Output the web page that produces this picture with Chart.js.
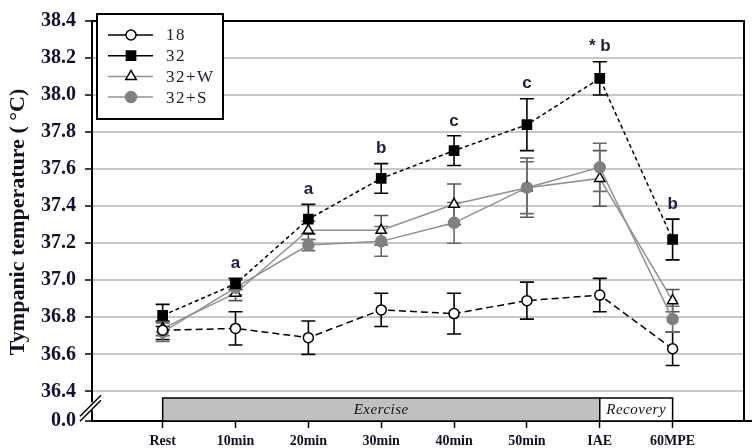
<!DOCTYPE html>
<html>
<head>
<meta charset="utf-8">
<script src="https://cdn.jsdelivr.net/npm/chart.js@4/dist/chart.umd.min.js"></script>
<style>
  html, body { margin: 0; padding: 0; background: #fff; }
  #wrap { width: 752px; height: 448px; }
</style>
</head>
<body>
<div id="wrap"><canvas id="grafico" width="752" height="448"></canvas></div>
<script>
// time points
const tempos = ['Rest', '10min', '20min', '30min', '40min', '50min', 'IAE', '60MPE'];

// mean tympanic temperature (°C)
const t18  = [36.73, 36.74, 36.69, 36.84, 36.82, 36.89, 36.92, 36.63];
const t32  = [36.81, 36.98, 37.33, 37.55, 37.70, 37.84, 38.09, 37.22];
const t32W = [36.74, 36.93, 37.27, 37.27, 37.41, 37.50, 37.55, 36.89];
const t32S = [36.72, 36.96, 37.19, 37.21, 37.31, 37.50, 37.61, 36.79];

// error bars (± SE)
const e18  = [0.05, 0.09, 0.09, 0.09, 0.11, 0.10, 0.09, 0.09];
const e32  = [0.06, 0.03, 0.08, 0.08, 0.08, 0.14, 0.09, 0.11];
const e32W = [0.04, 0.04, 0.05, 0.08, 0.11, 0.16, 0.15, 0.06];
const e32S = [0.05, 0.04, 0.03, 0.08, 0.11, 0.14, 0.13, 0.07];

// significance letters above the 32 series
const letras = ['', 'a', 'a', 'b', 'c', 'c', '* b', 'b'];

// y tick labels (bottom tick is the broken-axis 0.0)
const yTicks = [36.24, 36.4, 36.6, 36.8, 37.0, 37.2, 37.4, 37.6, 37.8, 38.0, 38.2, 38.4];

const fases = [
    { label: 'Exercise', from: 0, to: 6, fill: '#c0c0c0' },
    { label: 'Recovery', from: 6, to: 7, fill: '#ffffff' }
];

function pontos(arr) {
    return arr.map((v, i) => ({ x: i, y: v }));
}

const series = [
    { label: '18', data: t18, err: e18, color: 'black', dash: [7, 4], style: 'circle', radius: 5, bg: 'white', errColor: 'black' },
    { label: '32', data: t32, err: e32, color: 'black', dash: [4, 3], style: 'rect', radius: 6.5, bg: 'black', errColor: 'black' },
    { label: '32+W', data: t32W, err: e32W, color: '#909090', dash: [], style: 'triangle', radius: 6, bg: 'white', errColor: '#555555' },
    { label: '32+S', data: t32S, err: e32S, color: '#909090', dash: [], style: 'circle', radius: 5.5, bg: '#808080', errColor: '#6a6a6a' }
];

const errorBars = {
    id: 'errorBars',
    beforeDatasetsDraw(chart) {
        const ctx = chart.ctx;
        const x = chart.scales.x, y = chart.scales.y;
        ctx.save();
        ctx.lineWidth = 1.6;
        series.forEach(s => {
            ctx.strokeStyle = s.errColor;
            s.data.forEach((v, i) => {
                const px = x.getPixelForValue(i);
                const top = y.getPixelForValue(v + s.err[i]);
                const bot = y.getPixelForValue(v - s.err[i]);
                ctx.beginPath();
                ctx.moveTo(px, top); ctx.lineTo(px, bot);
                ctx.moveTo(px - 7, top); ctx.lineTo(px + 7, top);
                ctx.moveTo(px - 7, bot); ctx.lineTo(px + 7, bot);
                ctx.stroke();
            });
        });
        ctx.restore();
    }
};

function marcador(ctx, s, cx, cy) {
    ctx.save();
    ctx.fillStyle = s.bg;
    ctx.strokeStyle = s.style === 'circle' && s.bg !== 'white' ? s.bg : 'black';
    ctx.lineWidth = 1.5;
    ctx.beginPath();
    if (s.style === 'circle') {
        ctx.arc(cx, cy, s.radius, 0, Math.PI * 2);
    } else if (s.style === 'rect') {
        const h = s.radius * Math.SQRT1_2;
        ctx.rect(cx - h, cy - h, 2 * h, 2 * h);
    } else {
        const r = s.radius;
        ctx.moveTo(cx, cy - r);
        ctx.lineTo(cx + r * 0.87, cy + r * 0.5);
        ctx.lineTo(cx - r * 0.87, cy + r * 0.5);
        ctx.closePath();
    }
    ctx.fill();
    ctx.stroke();
    ctx.restore();
}

const extras = {
    id: 'extras',
    afterDraw(chart) {
        const ctx = chart.ctx;
        const x = chart.scales.x, y = chart.scales.y;
        const area = chart.chartArea;
        ctx.save();

        // frame top and right, axis line runs to the edge
        ctx.strokeStyle = 'black';
        ctx.lineWidth = 2;
        ctx.beginPath();
        ctx.moveTo(area.left, area.top); ctx.lineTo(area.right, area.top); ctx.lineTo(area.right, area.bottom);
        ctx.moveTo(area.right, area.bottom); ctx.lineTo(chart.width, area.bottom);
        ctx.stroke();

        // phase bars
        const base = area.bottom;
        fases.forEach(f => {
            const x0 = x.getPixelForValue(f.from), x1 = x.getPixelForValue(f.to);
            ctx.fillStyle = f.fill;
            ctx.fillRect(x0, base - 23, x1 - x0, 23);
            ctx.lineWidth = 1.5;
            ctx.strokeStyle = 'black';
            ctx.strokeRect(x0, base - 23, x1 - x0, 23);
            ctx.fillStyle = '#111';
            ctx.font = 'italic 15px "Liberation Serif"';
            ctx.letterSpacing = '0.5px';
            ctx.textAlign = 'center';
            ctx.textBaseline = 'middle';
            ctx.fillText(f.label, (x0 + x1) / 2, base - 11);
            ctx.letterSpacing = '0px';
        });

        // axis break marks
        const by = y.getPixelForValue(36.32);
        ctx.fillStyle = 'white';
        ctx.fillRect(area.left - 3, by - 4, 6, 8);
        ctx.strokeStyle = 'black';
        ctx.lineWidth = 1.5;
        ctx.beginPath();
        ctx.moveTo(area.left - 12, by + 10); ctx.lineTo(area.left + 9, by - 11);
        ctx.moveTo(area.left - 12, by + 15); ctx.lineTo(area.left + 9, by - 6);
        ctx.stroke();

        // letters
        ctx.fillStyle = '#1c1c40';
        ctx.font = 'bold 17px "Liberation Sans"';
        ctx.textAlign = 'center';
        ctx.textBaseline = 'middle';
        letras.forEach((l, i) => {
            if (!l) return;
            const py = y.getPixelForValue(t32[i] + e32[i]) - 15;
            ctx.fillText(l, x.getPixelForValue(i), py);
        });

        // legend
        ctx.lineWidth = 2;
        ctx.strokeStyle = 'black';
        ctx.fillStyle = 'white';
        ctx.fillRect(97, 14, 126, 105);
        ctx.strokeRect(97, 14, 126, 105);
        series.forEach((s, k) => {
            const ly = 35 + k * 20.7;
            ctx.save();
            ctx.strokeStyle = s.color;
            ctx.lineWidth = 1.5;
            ctx.beginPath();
            ctx.moveTo(108, ly); ctx.lineTo(153, ly);
            ctx.stroke();
            ctx.restore();
            marcador(ctx, s, 131, ly);
            ctx.fillStyle = '#1a1a30';
            ctx.font = '17px "Liberation Serif"';
            ctx.textAlign = 'left';
            ctx.letterSpacing = '1.5px';
            ctx.fillText(s.label, 166, ly + 1);
            ctx.letterSpacing = '0px';
        });

        // y axis title
        ctx.translate(18, 222);
        ctx.rotate(-Math.PI / 2);
        ctx.fillStyle = '#111122';
        ctx.font = 'bold 22px "Liberation Serif"';
        ctx.textAlign = 'center';
        ctx.textBaseline = 'middle';
        ctx.fillText('Tympanic temperature ( \u00B0C)', 0, 0);
        ctx.restore();
    }
};

const ctx = document.getElementById('grafico').getContext('2d');
new Chart(ctx, {
    type: 'line',
    data: {
        datasets: series.map((s, k) => ({
            label: s.label,
            data: pontos(s.data),
            borderColor: s.color,
            borderWidth: 1.5,
            borderDash: s.dash,
            pointStyle: s.style,
            pointRadius: s.radius,
            pointBackgroundColor: s.bg,
            pointBorderColor: s.style === 'circle' && s.bg !== 'white' ? s.bg : 'black',
            pointBorderWidth: 1.5,
            fill: false,
            tension: 0,
            order: [1, 0, 3, 2][k]
        }))
    },
    options: {
        responsive: false,
        animation: false,
        layout: { padding: { top: 7, right: 4, left: 0, bottom: 0 } },
        plugins: { legend: { display: false }, tooltip: { enabled: false } },
        scales: {
            x: {
                type: 'linear',
                min: -0.97,
                max: 7.98,
                afterBuildTicks: ax => { ax.ticks = tempos.map((_, i) => ({ value: i })); },
                afterFit: ax => { ax.height = 27; },
                grid: { drawOnChartArea: false, tickLength: 7, tickColor: 'black', tickWidth: 1.5 },
                border: { color: 'black', width: 2 },
                ticks: {
                    autoSkip: false,
                    maxRotation: 0,
                    padding: 5,
                    color: '#111122',
                    font: { family: 'Liberation Serif', size: 14, weight: 'bold' },
                    callback: v => tempos[v] ?? ''
                }
            },
            y: {
                min: 36.24,
                max: 38.4,
                afterBuildTicks: ax => { ax.ticks = yTicks.map(v => ({ value: v })); },
                afterFit: ax => { ax.width = 92; },
                grid: {
                    color: c => (c.tick && c.tick.value < 36.3) ? 'rgba(0,0,0,0)' : '#c8c8c8',
                    lineWidth: 2,
                    tickLength: 7,
                    tickColor: 'black',
                    tickWidth: 1.5
                },
                border: { color: 'black', width: 2 },
                ticks: {
                    padding: 9,
                    color: '#111133',
                    font: { family: 'Liberation Serif', size: 20, weight: 'bold' },
                    callback: v => v < 36.3 ? '0.0' : v.toFixed(1)
                }
            }
        }
    },
    plugins: [errorBars, extras]
});
</script>
</body>
</html>
